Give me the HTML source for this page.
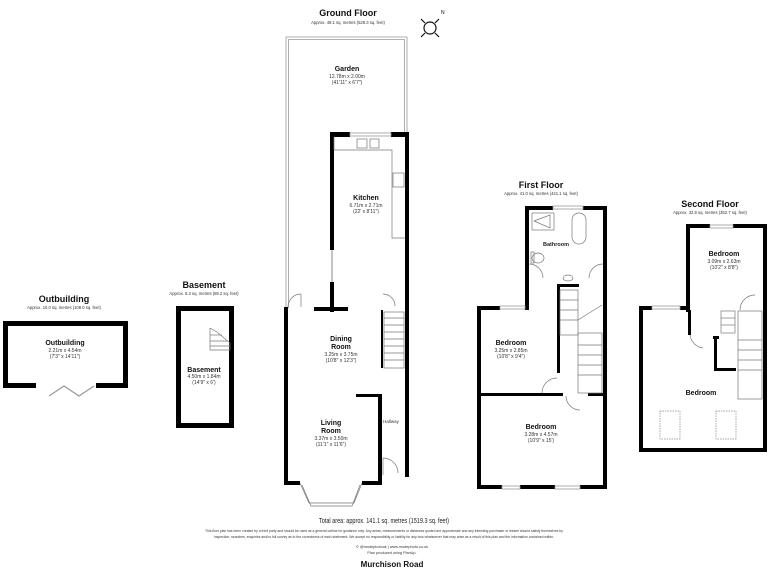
<!DOCTYPE html>
<html><head><meta charset="utf-8"><style>
html,body{margin:0;padding:0;background:#fff;}
svg{display:block;font-family:"Liberation Sans",Arial,sans-serif;}
.t{font-weight:bold;fill:#111;text-anchor:middle;}
.s{fill:#333;text-anchor:middle;}
</style></head><body>
<svg width="768" height="576" viewBox="0 0 768 576" xmlns="http://www.w3.org/2000/svg">
<rect width="768" height="576" fill="#fff"/>
<!-- Titles -->
<text class="t" x="348" y="16" font-size="9">Ground Floor</text>
<text class="s" x="348" y="24" font-size="4.2">Approx. 49.1 sq. metres (528.3 sq. feet)</text>
<text class="t" x="541" y="188" font-size="9">First Floor</text>
<text class="s" x="541" y="195" font-size="4.2">Approx. 41.0 sq. metres (441.1 sq. feet)</text>
<text class="t" x="710" y="207" font-size="9">Second Floor</text>
<text class="s" x="710" y="214" font-size="4.2">Approx. 32.8 sq. metres (352.7 sq. feet)</text>
<text class="t" x="204" y="288" font-size="9">Basement</text>
<text class="s" x="204" y="295" font-size="4.2">Approx. 8.3 sq. metres (89.2 sq. feet)</text>
<text class="t" x="64" y="302" font-size="9">Outbuilding</text>
<text class="s" x="64" y="309" font-size="4.2">Approx. 10.0 sq. metres (108.0 sq. feet)</text>

<!-- compass -->
<g stroke="#111" fill="none" stroke-width="1.2">
<circle cx="430" cy="28" r="6"/>
<line x1="421" y1="19" x2="425" y2="23"/><line x1="439" y1="19" x2="435" y2="23"/>
<line x1="421" y1="37" x2="425" y2="33"/><line x1="439" y1="37" x2="435" y2="33"/>
</g>
<text x="441" y="14" font-size="5" fill="#111">N</text>

<!-- Garden -->
<g fill="none" stroke="#999" stroke-width="0.8">
<polyline points="286,308 286,37 407,37 407,134"/>
<polyline points="288.5,308 288.5,39.5 404.5,39.5 404.5,134"/>
</g>
<text class="t" x="347" y="71" font-size="7">Garden</text>
<text class="s" x="347" y="78" font-size="5">12.78m x 2.00m</text>
<text class="s" x="347" y="84" font-size="5">(41'11" x 6'7")</text>

<!-- Ground floor walls -->
<g fill="#000">
<rect x="330" y="132" width="20" height="5"/>
<rect x="391" y="132" width="18" height="5"/>
<rect x="330" y="132" width="4" height="118"/>
<rect x="405" y="132" width="4" height="345"/>
<rect x="330" y="282" width="4" height="30"/>
<rect x="284" y="307" width="4" height="178"/>
<rect x="314" y="307" width="34" height="4"/>
<rect x="284" y="481" width="16" height="4"/>
<rect x="362" y="481" width="19" height="4"/>
<rect x="378" y="394" width="4" height="91"/>
<rect x="356" y="394" width="25" height="3"/>
<rect x="381" y="310" width="2" height="58"/>
</g>
<line x1="332" y1="250" x2="332" y2="282" stroke="#888"/>
<rect x="350" y="133" width="41" height="3" fill="none" stroke="#999" stroke-width="0.8"/>
<!-- kitchen units -->
<g fill="none" stroke="#777" stroke-width="0.7">
<polyline points="334,137 334,150 392,150 392,238 405,238"/>
<rect x="357" y="139" width="10" height="9"/><rect x="370" y="139" width="9" height="9"/>
<rect x="393" y="173" width="11" height="14"/>
<path d="M288,307 A13,13 0 0 1 301,294"/><line x1="301" y1="294" x2="301" y2="307"/>
<path d="M395,306 A12,12 0 0 0 383,294"/>
<rect x="384" y="312" width="20" height="56"/>
<line x1="384" y1="318" x2="404" y2="318"/><line x1="384" y1="325" x2="404" y2="325"/><line x1="384" y1="332" x2="404" y2="332"/><line x1="384" y1="339" x2="404" y2="339"/><line x1="384" y1="346" x2="404" y2="346"/><line x1="384" y1="353" x2="404" y2="353"/><line x1="384" y1="360" x2="404" y2="360"/>
<polyline points="300,483 309,503 354,503 362,483"/>
<polyline points="302,485 311,506 352,506 360,485"/>
<path d="M383,458 A15,15 0 0 1 398,473"/><line x1="383" y1="458" x2="383" y2="475"/>
</g>
<text class="t" x="366" y="200" font-size="7">Kitchen</text>
<text class="s" x="366" y="207" font-size="5">6.71m x 2.71m</text>
<text class="s" x="366" y="213" font-size="5">(22' x 8'11")</text>
<text class="t" x="341" y="341" font-size="7">Dining</text>
<text class="t" x="341" y="349" font-size="7">Room</text>
<text class="s" x="341" y="356" font-size="5">3.25m x 3.75m</text>
<text class="s" x="341" y="362" font-size="5">(10'8" x 12'3")</text>
<text class="t" x="331" y="425" font-size="7">Living</text>
<text class="t" x="331" y="433" font-size="7">Room</text>
<text class="s" x="331" y="440" font-size="5">3.37m x 3.50m</text>
<text class="s" x="331" y="446" font-size="5">(11'1" x 11'6")</text>
<text class="s" x="391" y="423" font-size="4.5">Hallway</text>

<!-- Basement -->
<rect x="178.5" y="308.5" width="53" height="117" fill="none" stroke="#000" stroke-width="5"/>
<g fill="none" stroke="#777" stroke-width="0.7"><polyline points="210,328 210,350 230,350 230,343 217,332 210,328"/><line x1="210" y1="335" x2="222" y2="335"/><line x1="210" y1="341" x2="228" y2="341"/><line x1="210" y1="346" x2="230" y2="346"/></g>
<text class="t" x="204" y="372" font-size="7">Basement</text>
<text class="s" x="204" y="378" font-size="5">4.50m x 1.84m</text>
<text class="s" x="204" y="384" font-size="5">(14'9" x 6')</text>

<!-- Outbuilding -->
<g fill="#000">
<rect x="3" y="321" width="125" height="5"/>
<rect x="3" y="321" width="5" height="67"/>
<rect x="123" y="321" width="5" height="67"/>
<rect x="3" y="383" width="33" height="5"/>
<rect x="96" y="383" width="32" height="5"/>
</g>
<polyline points="49,396 64,386 79,396 94,386" fill="none" stroke="#999" stroke-width="1.2"/>
<text class="t" x="65" y="345" font-size="7">Outbuilding</text>
<text class="s" x="65" y="352" font-size="5">2.21m x 4.54m</text>
<text class="s" x="65" y="358" font-size="5">(7'3" x 14'11")</text>

<!-- First floor -->
<g fill="#000">
<rect x="525" y="206" width="28" height="4"/><rect x="583" y="206" width="24" height="4"/>
<rect x="525" y="206" width="4" height="104"/>
<rect x="477" y="306" width="23" height="4"/><rect x="525" y="306" width="4" height="4"/>
<rect x="477" y="306" width="4" height="183"/>
<rect x="603" y="206" width="4" height="283"/>
<rect x="477" y="485" width="25" height="4"/><rect x="520" y="485" width="35" height="4"/><rect x="580" y="485" width="27" height="4"/>
<rect x="479" y="393" width="84" height="3"/><rect x="588" y="393" width="17" height="3"/>
<rect x="557" y="284" width="3" height="89"/><rect x="557" y="284" width="22" height="3"/>
</g>
<g fill="none" stroke="#999" stroke-width="0.8">
<rect x="553" y="206" width="30" height="3"/><rect x="500" y="306" width="25" height="3"/>
<rect x="502" y="486" width="18" height="3"/><rect x="555" y="486" width="25" height="3"/>
</g>
<g fill="none" stroke="#777" stroke-width="0.7">
<rect x="532" y="213" width="22" height="17"/><polyline points="534,221 550,215 550,228 534,221"/>
<rect x="572" y="213" width="14" height="31" rx="7"/>
<ellipse cx="538" cy="258" rx="6" ry="5"/><rect x="531" y="252" width="3" height="11"/>
<path d="M529,264 A14,14 0 0 1 543,278"/><path d="M603,264 A14,14 0 0 0 589,278"/>
<ellipse cx="568" cy="278" rx="5" ry="3"/>
<rect x="560" y="290" width="18" height="45"/><line x1="560" y1="300" x2="578" y2="300"/><line x1="560" y1="310" x2="578" y2="310"/><line x1="560" y1="320" x2="578" y2="320"/>
<rect x="578" y="333" width="24" height="60"/><line x1="578" y1="345" x2="602" y2="345"/><line x1="578" y1="355" x2="602" y2="355"/><line x1="578" y1="365" x2="602" y2="365"/><line x1="578" y1="375" x2="602" y2="375"/><line x1="578" y1="320" x2="602" y2="305"/>
<path d="M542,393 A15,15 0 0 1 557,378"/>
<path d="M566,396 A14,14 0 0 0 580,410"/>
</g>
<text x="556" y="246" font-size="5.5" font-weight="bold" fill="#222" text-anchor="middle">Bathroom</text>
<text class="t" x="511" y="345" font-size="7">Bedroom</text>
<text class="s" x="511" y="352" font-size="5">3.25m x 2.85m</text>
<text class="s" x="511" y="358" font-size="5">(10'8" x 9'4")</text>
<text class="t" x="541" y="429" font-size="7">Bedroom</text>
<text class="s" x="541" y="436" font-size="5">3.28m x 4.57m</text>
<text class="s" x="541" y="442" font-size="5">(10'9" x 15')</text>

<!-- Second floor -->
<g fill="#000">
<rect x="686" y="224" width="24" height="4"/><rect x="733" y="224" width="34" height="4"/>
<rect x="686" y="224" width="4" height="88"/>
<rect x="639" y="306" width="13" height="4"/><rect x="680" y="306" width="10" height="4"/>
<rect x="639" y="306" width="4" height="146"/>
<rect x="763" y="224" width="4" height="228"/>
<rect x="639" y="448" width="128" height="4"/>
<rect x="688" y="310" width="3" height="25"/>
<rect x="714" y="336" width="3" height="34"/><rect x="714" y="368" width="22" height="3"/><rect x="713" y="336" width="6" height="3"/>
</g>
<g fill="none" stroke="#999" stroke-width="0.8">
<rect x="710" y="225" width="23" height="3"/><rect x="652" y="306" width="28" height="3"/>
</g>
<g fill="none" stroke="#777" stroke-width="0.7">
<rect x="721" y="311" width="14" height="22"/><line x1="721" y1="318" x2="735" y2="318"/><line x1="721" y1="325" x2="735" y2="325"/>
<rect x="738" y="311" width="24" height="88"/><line x1="738" y1="340" x2="762" y2="340"/><line x1="738" y1="350" x2="762" y2="350"/><line x1="738" y1="360" x2="762" y2="360"/><line x1="738" y1="370" x2="762" y2="370"/>
<path d="M740,310 A15,15 0 0 1 755,295"/>
<path d="M690,335 A15,15 0 0 0 703,348"/>
</g>
<g fill="none" stroke="#888" stroke-width="0.7" stroke-dasharray="1.5,1">
<rect x="660" y="411" width="20" height="28"/><rect x="716" y="411" width="20" height="28"/>
</g>
<text class="t" x="724" y="256" font-size="7">Bedroom</text>
<text class="s" x="724" y="263" font-size="5">3.09m x 2.63m</text>
<text class="s" x="724" y="269" font-size="5">(10'2" x 8'8")</text>
<text class="t" x="701" y="395" font-size="7">Bedroom</text>

<!-- Footer -->
<text x="384" y="523" font-size="7.5" fill="#222" text-anchor="middle" textLength="130" lengthAdjust="spacingAndGlyphs">Total area: approx. 141.1 sq. metres (1519.3 sq. feet)</text>
<text x="384" y="532" font-size="3.6" fill="#333" text-anchor="middle" textLength="358" lengthAdjust="spacingAndGlyphs">This floor plan has been created by a third party and should be used as a general outline for guidance only. Any areas, measurements or distances quoted are approximate and any intending purchaser or lessee should satisfy themselves by</text>
<text x="384" y="538" font-size="3.6" fill="#333" text-anchor="middle" textLength="340" lengthAdjust="spacingAndGlyphs">inspection, searches, enquiries and/or full survey as to the correctness of each statement. We accept no responsibility or liability for any loss whatsoever that may arise as a result of this plan and the information contained within.</text>
<text x="392" y="548" font-size="3.8" fill="#333" text-anchor="middle">© @modephotouk | www.modephoto.co.uk</text>
<text x="392" y="554" font-size="3.8" fill="#333" text-anchor="middle">Plan produced using PlanUp.</text>
<text x="392" y="567" font-size="8" font-weight="bold" fill="#111" text-anchor="middle">Murchison Road</text>
</svg>
</body></html>
